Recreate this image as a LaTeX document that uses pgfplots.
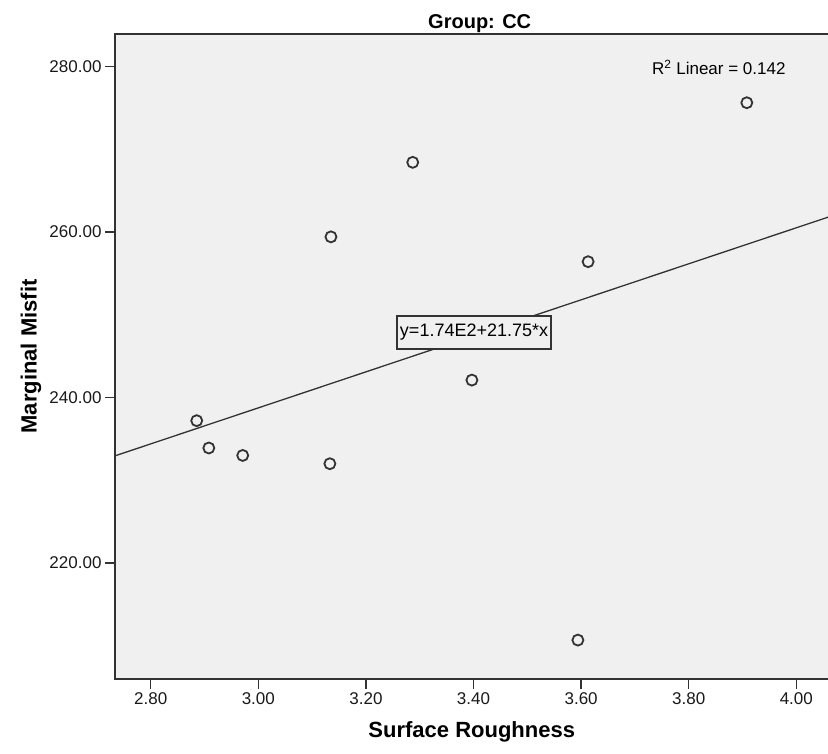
\documentclass[border=0pt]{standalone}
\usepackage{pgfplots}
\pgfplotsset{compat=1.18}
\usepackage{fontspec}
\setmainfont{Liberation Sans}
\definecolor{bg}{HTML}{F0F0F0}
\definecolor{ax}{HTML}{333333}
\begin{document}
\begin{tikzpicture}[x=1pt,y=1pt]
\useasboundingbox (-115,-74) rectangle (713,679);
\begin{axis}[
  at={(0,0)}, anchor=south west, scale only axis,
  width=713.6pt, height=645pt,
  xmin=2.7336, xmax=4.06, ymin=206.0, ymax=283.9,
  axis background/.style={fill=bg},
  axis line style={ax, line width=1.3pt},
  xtick={2.8,3.0,3.2,3.4,3.6,3.8,4.0},
  ytick={220,240,260,280},
  tick align=outside, major tick length=10pt,
  tick style={ax, line width=1.3pt},
  xtick pos=bottom, ytick pos=left,
  /pgf/number format/assume math mode=true,
  xticklabel style={/pgf/number format/.cd, fixed, fixed zerofill, precision=2},
  yticklabel style={/pgf/number format/.cd, fixed, fixed zerofill, precision=2},
  ticklabel style={font=\fontsize{17}{20}\selectfont, text=black!90},
  xlabel={Surface Roughness},
  ylabel={Marginal Misfit},
  xlabel style={font=\bfseries\fontsize{22}{26}\selectfont, at={(axis description cs:0.5,0)}, anchor=center, yshift=-53pt},
  ylabel style={font=\bfseries\fontsize{22}{26}\selectfont, at={(axis description cs:-0.1177,0.5)}, anchor=center},
  clip=false,
]
\addplot[ax, line width=1.3pt] coordinates {(2.7336,232.95) (4.06,261.8)};
\addplot[only marks, mark=o, mark size=5.5pt, mark options={ax, line width=1.8pt, fill=none}] coordinates {
(2.8855,237.2) (2.908,233.9) (2.971,233.0) (3.133,232.0) (3.135,259.4)
(3.287,268.4) (3.397,242.1) (3.613,256.4) (3.594,210.7) (3.908,275.6)
};
\node[draw=ax, line width=1.3pt, fill=bg, inner xsep=3pt, minimum height=33pt, font=\fontsize{18}{21}\selectfont] at (axis cs:3.401,247.85) {y=1.74E2+21.75*x};
\node[font=\fontsize{17}{20}\selectfont] at (axis cs:3.856,279.9) {R\textsuperscript{2} Linear = 0.142};
\end{axis}
\node[anchor=base, font=\bfseries\fontsize{20}{24}\selectfont] at (364.7,650.7) {Group: CC};
\end{tikzpicture}
\end{document}
